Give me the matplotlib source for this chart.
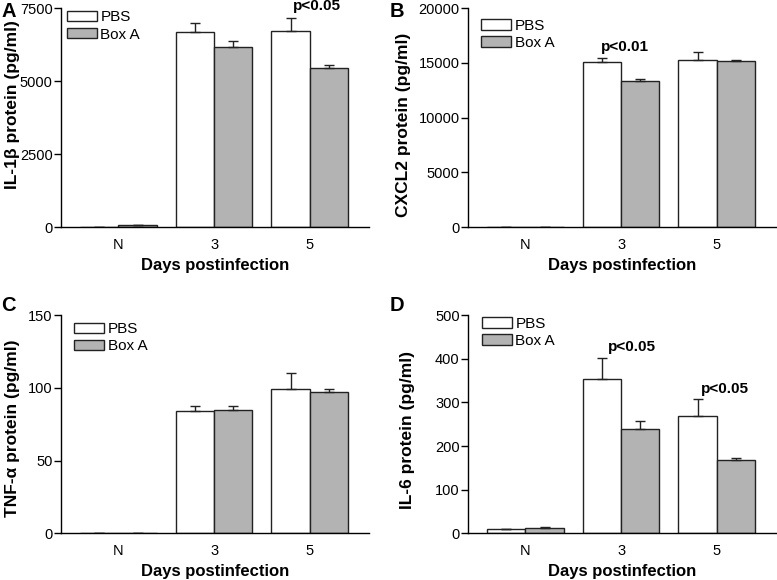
import numpy as np
import matplotlib
matplotlib.use("Agg")
import matplotlib.pyplot as plt

plt.rcParams["font.family"] = ["Liberation Sans", "DejaVu Sans"]

groups = ["N", "3", "5"]

il1b_pbs = [5, 6680, 6710]
il1b_pbs_err = [0, 300, 450]
il1b_boxa = [60, 6175, 5440]
il1b_boxa_err = [10, 195, 105]

cxcl2_pbs = [30, 15090, 15240]
cxcl2_pbs_err = [0, 400, 730]
cxcl2_boxa = [30, 13320, 15150]
cxcl2_boxa_err = [0, 215, 95]

tnf_pbs = [0, 83.9, 99.1]
tnf_pbs_err = [0, 3.9, 11.0]
tnf_boxa = [0, 84.6, 97.2]
tnf_boxa_err = [0, 2.8, 2.3]

il6_pbs = [9, 355, 269]
il6_pbs_err = [0, 47, 38]
il6_boxa = [12, 240, 167]
il6_boxa_err = [3, 18, 6]

panels = [
    ("A", "IL-1\u03b2 protein (pg/ml)", il1b_pbs, il1b_pbs_err, il1b_boxa, il1b_boxa_err,
     [0, 2500, 5000, 7500], [(2.08, 7450, "p<0.05")]),
    ("B", "CXCL2 protein (pg/ml)", cxcl2_pbs, cxcl2_pbs_err, cxcl2_boxa, cxcl2_boxa_err,
     [0, 5000, 10000, 15000, 20000], [(1.04, 16100, "p<0.01")]),
    ("C", "TNF-\u03b1 protein (pg/ml)", tnf_pbs, tnf_pbs_err, tnf_boxa, tnf_boxa_err,
     [0, 50, 100, 150], []),
    ("D", "IL-6 protein (pg/ml)", il6_pbs, il6_pbs_err, il6_boxa, il6_boxa_err,
     [0, 100, 200, 300, 400, 500], [(1.115, 417, "p<0.05"), (2.09, 321, "p<0.05")]),
]

# axes rectangles in figure fraction
rects = [
    [0.0785, 0.6086, 0.3964, 0.3771],
    [0.6023, 0.6086, 0.3964, 0.3771],
    [0.0785, 0.0805, 0.3964, 0.3759],
    [0.6023, 0.0805, 0.3964, 0.3759],
]
# per-panel placement tweaks: legend anchor, y label coords, panel letter position
legend_anchor = [(0.019, 0.99), (0.042, 0.952), (0.042, 0.968), (0.045, 0.993)]
ylabel_xy = [(-0.1315, 0.56), (-0.185, 0.469), (-0.1315, 0.481), (-0.172, 0.474)]
letter_xy = [(0.002, 0.9974), (0.502, 0.9974), (0.002, 0.4905), (0.502, 0.4905)]

fig = plt.figure(figsize=(7.77, 5.8), dpi=100)
x = np.arange(len(groups))
w = 0.4
gray = "#b3b3b3"
edge = "#222222"

for i, (letter, ylab, pbs, pbs_err, boxa, boxa_err, ticks, notes) in enumerate(panels):
    ax = fig.add_axes(rects[i])
    ax.bar(x - w / 2, pbs, w, color="white", edgecolor=edge, linewidth=1.0, label="PBS")
    ax.bar(x + w / 2, boxa, w, color=gray, edgecolor=edge, linewidth=1.0, label="Box A")
    ax.errorbar(x - w / 2, pbs, yerr=[np.zeros(3), pbs_err], fmt="none", ecolor=edge,
                elinewidth=1.0, capsize=3.6, capthick=1.0)
    ax.errorbar(x + w / 2, boxa, yerr=[np.zeros(3), boxa_err], fmt="none", ecolor=edge,
                elinewidth=1.0, capsize=3.6, capthick=1.0)

    ax.set_xlim(-0.6, 2.62)
    ax.set_ylim(0, ticks[-1])
    ax.set_yticks(ticks)
    ax.set_xticks(x)
    ax.set_xticklabels(groups)
    ax.tick_params(axis="x", length=0, pad=8, labelsize=10.5)
    ax.tick_params(axis="y", length=5, width=1, labelsize=10.5, pad=1)
    ax.spines["top"].set_visible(False)
    ax.spines["right"].set_visible(False)
    ax.spines["left"].set_linewidth(1.0)
    ax.spines["bottom"].set_linewidth(1.0)

    ax.set_xlabel("Days postinfection", fontsize=12, fontweight="bold", labelpad=4)
    ax.set_ylabel(ylab, fontsize=12.5, fontweight="bold")
    ax.yaxis.set_label_coords(*ylabel_xy[i])

    ax.legend(loc="upper left", bbox_to_anchor=legend_anchor[i], frameon=False, fontsize=11,
              handlelength=1.95, handleheight=0.65, handletextpad=0.25, labelspacing=0.2,
              borderaxespad=0, borderpad=0)

    for xi, yi, txt in notes:
        ax.text(xi, yi, txt, ha="center", va="baseline", fontsize=11, fontweight="bold")

    fig.text(letter_xy[i][0], letter_xy[i][1], letter, fontsize=14.5, fontweight="bold",
             ha="left", va="top")

fig.savefig("out.png", dpi=100)
